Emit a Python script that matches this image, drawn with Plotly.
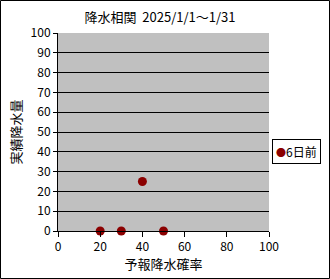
import plotly.graph_objects as go

forecast_pct = [20, 30, 40, 50]
actual_mm = [0, 0, 25, 0]
series_name = "6日前"
title_text = "降水相関  2025/1/1～1/31"
x_title = "予報降水確率"
y_title = "実績降水量"

W, H = 330, 279
L, R, T, B = 58, 61, 33, 48
pw, ph = W - L - R, H - T - B
marker_color = "#8B0000"

fig = go.Figure()
fig.add_trace(go.Scatter(
    x=forecast_pct, y=actual_mm, mode="markers", name=series_name,
    marker=dict(color=marker_color, size=9),
    cliponaxis=False, showlegend=False,
))

font = "Noto Sans CJK JP, sans-serif"
fig.update_layout(
    width=W, height=H,
    margin=dict(l=L, r=R, t=T, b=B, pad=0, autoexpand=False),
    paper_bgcolor="white", plot_bgcolor="#C0C0C0",
    font=dict(family=font, size=12, color="black"),
    title=dict(text=title_text, x=160 / W, xanchor="center", y=1 - 17 / H, yanchor="middle",
               font=dict(size=13, color="black")),
    showlegend=False,
    xaxis=dict(range=[0, 100], dtick=20, showgrid=False, zeroline=False,
               showline=True, linecolor="black", linewidth=1,
               ticks="outside", ticklen=5, tickcolor="black",
               title=dict(text=x_title, standoff=4, font=dict(size=13, color="black"))),
    yaxis=dict(range=[0, 100], dtick=10, showgrid=True, gridcolor="black", gridwidth=1,
               zeroline=False, showline=True, linecolor="black", linewidth=1,
               ticks="outside", ticklen=4, tickcolor="black",
               title=dict(text=y_title, standoff=6, font=dict(size=13, color="black"))),
    shapes=[dict(type="rect", xref="paper", yref="paper",
                 x0=(0.5 - L) / pw, x1=(W - 0.5 - L) / pw,
                 y0=-(B - 0.5) / ph, y1=(ph + T - 0.5) / ph,
                 line=dict(color="black", width=1), fillcolor="rgba(0,0,0,0)", layer="above")],
    annotations=[dict(
        text=f"<span style='color:{marker_color};font-size:10px'>●</span>{series_name}",
        xref="paper", yref="paper", x=(272 - L) / pw, xanchor="left",
        y=(H - B - 151) / ph, yanchor="middle", showarrow=False,
        bordercolor="black", borderwidth=1, borderpad=3, bgcolor="white",
        font=dict(size=12, color="black"))],
)
fig.write_html("out.html")
